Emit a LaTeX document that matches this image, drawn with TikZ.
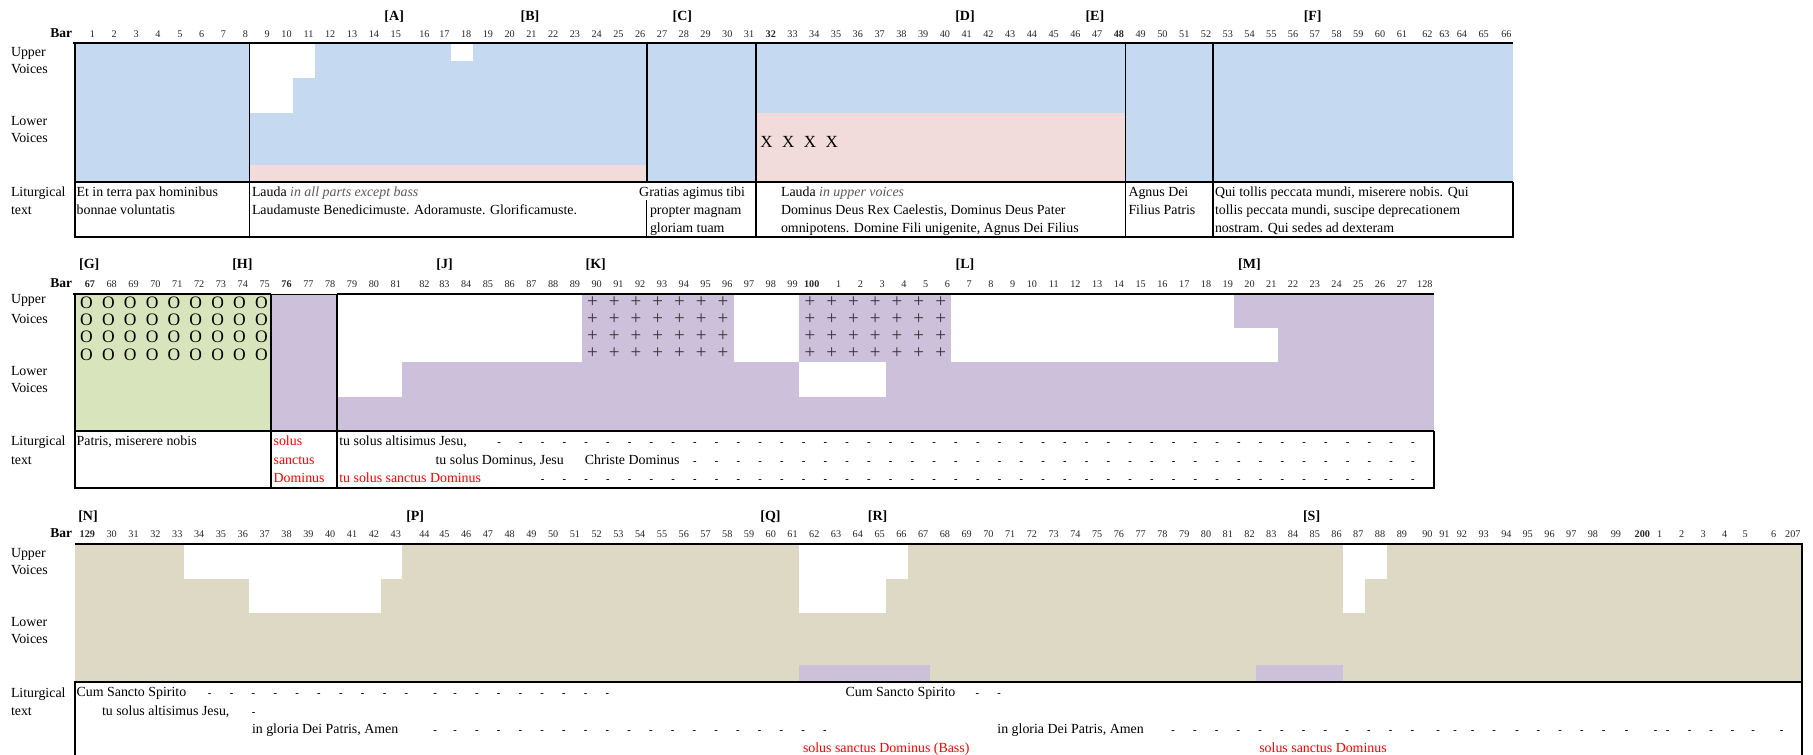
\documentclass[tikz,border=0pt]{standalone}
\usepackage{fontspec}
\setmainfont{Liberation Serif}
\definecolor{cblue}{HTML}{C5D9F1}
\definecolor{cpink}{HTML}{F2DCDB}
\definecolor{cgreen}{HTML}{D8E4BC}
\definecolor{cpurple}{HTML}{CCC0DA}
\definecolor{ctan}{HTML}{DDD9C4}
\definecolor{cgray}{HTML}{595959}
\definecolor{cred}{HTML}{FF0000}
\foreach \i/\v in {0/74.6,1/96.45,2/118.3,3/140.15,4/162.0,5/183.85,6/205.7,7/227.55,8/249.4,9/271.25,10/293.1,11/314.95,12/336.8,13/358.65,14/380.5,15/402.35,16/431.0,17/451.0,18/472.76,19/494.52,20/516.28,21/538.04,22/559.8,23/581.56,24/603.32,25/625.08,26/646.84,27/668.6,28/690.36,29/712.12,30/733.88,31/755.64,32/777.4,33/799.16,34/820.92,35/842.68,36/864.44,37/886.2,38/907.96,39/929.72,40/951.48,41/973.24,42/995.0,43/1016.76,44/1038.52,45/1060.28,46/1082.04,47/1103.8,48/1125.56,49/1147.32,50/1169.08,51/1190.84,52/1212.6,53/1234.36,54/1256.12,55/1277.88,56/1299.64,57/1321.4,58/1343.16,59/1364.92,60/1386.68,61/1408.44,62/1434,63/1451,64/1468.5,65/1490.2,66/1513,67/1534.3,68/1556.1,69/1577.9,70/1599.5,71/1622.5,72/1651.5,73/1663.7,74/1685.6,75/1707.1,76/1728.7,77/1749.2,78/1777.7,79/1802}{\expandafter\xdef\csname RRc\i\endcsname{\v}}
\newcommand\RR[1]{\csname RRc#1\endcsname}
\begin{document}
\begin{tikzpicture}[x=1pt,y=-1pt,
  every node/.style={inner sep=0pt,outer sep=0pt},
  txt/.style={font=\fontsize{13.9}{16}\selectfont, anchor=base west},
  barnum/.style={font=\fontsize{10.2}{11}\selectfont, anchor=base east, text=black!85},
  reh/.style={font=\bfseries\fontsize{14}{16}\selectfont, anchor=base},
  barlbl/.style={font=\bfseries\fontsize{13.5}{16}\selectfont, anchor=base east},
  dsh/.style={font=\bfseries\fontsize{10.5}{12}\selectfont, anchor=base},
  circ/.style={font=\fontsize{17.5}{20}\selectfont, anchor=center, text height=12pt, text depth=0pt},
  plus/.style={font=\fontsize{19}{21}\selectfont, anchor=center, text=black!80, text height=9.5pt, text depth=0pt},
  bigx/.style={font=\fontsize{17}{20}\selectfont, anchor=base},
  topline/.style={line width=2.4pt},
  bord/.style={line width=1.8pt},
  thinb/.style={line width=1pt}
]
\useasboundingbox (0,0) rectangle (1813,755);

% ================= ROW 1 =================
\fill[cblue] (74.6,43) rectangle (1513,182);
\fill[white] (249.4,43) rectangle (293.1,113);
\fill[white] (293.1,43) rectangle (314.95,78);
\fill[white] (451,43) rectangle (472.76,60.5);
\fill[cpink] (249.4,165) rectangle (646.84,182);
\fill[cpink] (755.64,113) rectangle (1125.56,182);

\foreach \k in {32,...,35}{
  \pgfmathtruncatemacro\km{\k-1}
  \pgfmathsetmacro\cc{(\RR{\km}+\RR{\k})/2}
  \node[bigx] (x-\k) at (\cc,147.6) {X};
}

\draw[topline] (73.4,43) -- (1513,43);
\draw[bord] (74.6,182) -- (1513,182);
\draw[bord] (73.7,237) -- (1513.9,237);
\foreach \xx in {74.6,249.4,755.64,1125.56,1212.6}{
  \draw[bord] (\xx,43) -- (\xx,237);
}
\draw[bord] (646.84,43) -- (646.84,182);
\draw[thinb] (646.84,200) -- (646.84,237);
\draw[bord] (1513,182) -- (1513,237);

\node[barlbl] (bar1) at (72,37.2) {Bar};
\foreach \k in {1,...,66}{
  \pgfmathsetmacro\xx{\RR{\k}-1.5}
  \node[barnum] (n1-\k) at (\xx,37.2) {\ifnum\k=32 \bfseries\fi\ifnum\k=48 \bfseries\fi\k};
}
\foreach \t/\xx in {A/394.2,B/530,C/682.4,D/965,E/1094.9,F/1312.7}{
  \node[reh] (r-\t) at (\xx,20.5) {[\t]};
}

\node[txt] (u1a) at (11,56.5) {Upper};
\node[txt] (u1b) at (11,73.5) {Voices};
\node[txt] (l1a) at (11,125.5) {Lower};
\node[txt] (l1b) at (11,142.5) {Voices};
\node[txt] (g1a) at (11,196.5) {Liturgical};
\node[txt] (g1b) at (11,214) {text};

\node[txt] (t1a) at (76.6,196.5) {Et in terra pax hominibus};
\node[txt] (t1b) at (76.6,214) {bonnae voluntatis};
\node[txt] (t2a) at (252,196.5) {Lauda {\itshape\color{cgray}in all parts except bass}};
\node[txt] (t2b) at (252,214) {Laudamuste Benedicimuste. Adoramuste. Glorificamuste.};
\node[txt, anchor=base east] (t3a) at (745,196.5) {Gratias agimus tibi};
\node[txt] (t3b) at (650,214) {propter magnam};
\node[txt] (t3c) at (650,232) {gloriam tuam};
\node[txt] (t4a) at (781,196.5) {Lauda {\itshape\color{cgray}in upper voices}};
\node[txt] (t4b) at (781,214) {Dominus Deus Rex Caelestis, Dominus Deus Pater};
\node[txt] (t4c) at (781,232) {omnipotens. Domine Fili unigenite, Agnus Dei Filius};
\node[txt] (t5a) at (1128.5,196.5) {Agnus Dei};
\node[txt] (t5b) at (1128.5,214) {Filius Patris};
\node[txt] (t6a) at (1215,196.5) {Qui tollis peccata mundi, miserere nobis. Qui};
\node[txt] (t6b) at (1215,214) {tollis peccata mundi, suscipe deprecationem};
\node[txt] (t6c) at (1215,232) {nostram. Qui sedes ad dexteram};

% ================= ROW 2 =================
\fill[cgreen] (74.6,294) rectangle (271.25,431);
\fill[cpurple] (271.25,294) rectangle (1434,431);
\fill[white] (336.8,294) rectangle (402.35,397);
\fill[white] (402.35,294) rectangle (581.56,362);
\fill[white] (733.88,294) rectangle (799.16,362);
\fill[white] (799.16,362) rectangle (886.2,397);
\fill[white] (951.48,294) rectangle (1234.36,362);
\fill[white] (1234.36,328) rectangle (1277.88,362);

\foreach \k in {1,...,9}{
  \pgfmathtruncatemacro\km{\k-1}
  \pgfmathsetmacro\cc{(\RR{\km}+\RR{\k})/2+1}
  \foreach \yy [count=\r] in {302.6,319.7,336.8,354}{
    \node[circ] (o-\r-\k) at (\cc,\yy) {O};
  }
}
\foreach \k in {24,...,30,34,35,36,37,38,39,40}{
  \pgfmathtruncatemacro\km{\k-1}
  \pgfmathsetmacro\cc{(\RR{\km}+\RR{\k})/2}
  \foreach \yy [count=\r] in {302.6,319.7,336.8,354}{
    \node[plus] (p-\r-\k) at (\cc,\yy) {+};
  }
}

\draw[topline] (73.4,294) -- (271.25,294);
\draw[thinb] (271.25,294) -- (336.8,294);
\draw[topline] (336.8,294) -- (1434,294);
\draw[bord] (74.6,431) -- (1434,431);
\draw[bord] (73.7,488) -- (1434.9,488);
\foreach \xx in {74.6,271.25,336.8}{
  \draw[bord] (\xx,294) -- (\xx,488);
}
\draw[bord] (1434,431) -- (1434,488);

\node[barlbl] (bar2) at (72,287.2) {Bar};
\foreach \k in {1,...,62}{
  \pgfmathtruncatemacro\b{66+\k}
  \pgfmathtruncatemacro\lab{ifthenelse(and(\b>100,\b<128),\b-100,\b)}
  \pgfmathsetmacro\xx{\RR{\k}-1.5}
  \node[barnum] (n2-\k) at (\xx,287.2) {\ifnum\b=67 \bfseries\fi\ifnum\b=76 \bfseries\fi\ifnum\b=100 \bfseries\fi\lab};
}
\foreach \t/\xx in {G/89.3,H/242.4,J/444.5,K/595.7,L/965,M/1249.4}{
  \node[reh] (r-\t) at (\xx,268.5) {[\t]};
}

\node[txt] (u2a) at (11,303) {Upper};
\node[txt] (u2b) at (11,323.3) {Voices};
\node[txt] (l2a) at (11,375.3) {Lower};
\node[txt] (l2b) at (11,392.5) {Voices};
\node[txt] (g2a) at (11,445.5) {Liturgical};
\node[txt] (g2b) at (11,464.5) {text};

\node[txt] (s1) at (76.6,445.5) {Patris, miserere nobis};
\node[txt, text=cred] (s2a) at (273.6,445.5) {solus};
\node[txt, text=cred] (s2b) at (273.6,464.5) {sanctus};
\node[txt, text=cred] (s2c) at (273.6,482.5) {Dominus};
\node[txt] (s3a) at (339.3,445.5) {tu solus altisimus Jesu,};
\node[txt] (s3b) at (435.6,464.5) {tu solus Dominus, Jesu};
\node[txt] (s3c) at (584.9,464.5) {Christe Dominus};
\node[txt, text=cred] (s3d) at (339.3,482.5) {tu solus sanctus Dominus};

\foreach \k in {20,...,62}{
  \pgfmathtruncatemacro\km{\k-1}
  \pgfmathsetmacro\xx{\RR{\km}+4.5}
  \node[dsh] (d2a-\k) at (\xx,445.5) {-};
}
\foreach \k in {29,...,62}{
  \pgfmathtruncatemacro\km{\k-1}
  \pgfmathsetmacro\xx{\RR{\km}+4.5}
  \node[dsh] (d2b-\k) at (\xx,464.5) {-};
}
\foreach \k in {22,...,62}{
  \pgfmathtruncatemacro\km{\k-1}
  \pgfmathsetmacro\xx{\RR{\km}+4.5}
  \node[dsh] (d2c-\k) at (\xx,482.5) {-};
}

% ================= ROW 3 =================
\fill[ctan] (74.6,544) rectangle (1802,682);
\fill[white] (183.85,544) rectangle (402.35,578.5);
\fill[white] (249.4,578.5) rectangle (380.5,613);
\fill[white] (799.16,544) rectangle (907.96,578.5);
\fill[white] (799.16,578.5) rectangle (886.2,613);
\fill[white] (1343.16,544) rectangle (1386.68,578.5);
\fill[white] (1343.16,578.5) rectangle (1364.92,613);
\fill[cpurple] (799.16,664.5) rectangle (929.72,682);
\fill[cpurple] (1256.12,664.5) rectangle (1343.16,682);

\draw[topline] (74.6,544) -- (1803,544);
\draw[bord] (74.6,682) -- (1802,682);
\draw[bord] (74.6,681.1) -- (74.6,755);
\draw[bord] (1802,542.8) -- (1802,755);

\node[barlbl] (bar3) at (72,537.2) {Bar};
\foreach \k in {1,...,79}{
  \pgfmathtruncatemacro\b{128+\k}
  \pgfmathtruncatemacro\lab{ifthenelse(and(\b>129,\b<200),\b-100,ifthenelse(and(\b>200,\b<207),\b-200,\b))}
  \pgfmathsetmacro\xx{\RR{\k}-1.5}
  \node[barnum] (n3-\k) at (\xx,537.2) {\ifnum\b=129 \bfseries\fi\ifnum\b=200 \bfseries\fi\lab};
}
\foreach \t/\xx in {N/88,P/415.2,Q/770.5,R/877.6,S/1311.6}{
  \node[reh] (r-\t) at (\xx,520.5) {[\t]};
}

\node[txt] (u3a) at (11,557.3) {Upper};
\node[txt] (u3b) at (11,574) {Voices};
\node[txt] (l3a) at (11,626.5) {Lower};
\node[txt] (l3b) at (11,643.5) {Voices};
\node[txt] (g3a) at (11,697) {Liturgical};
\node[txt] (g3b) at (11,715.2) {text};

\node[txt] (c1) at (76.6,696.5) {Cum Sancto Spirito};
\node[txt] (c2) at (845.7,696.5) {Cum Sancto Spirito};
\node[txt] (c3) at (102,715.5) {tu solus altisimus Jesu,};
\node[txt] (c4) at (252,733.5) {in gloria Dei Patris, Amen};
\node[txt] (c5) at (997.4,733.5) {in gloria Dei Patris, Amen};
\node[txt, text=cred] (c6) at (803,752.5) {solus sanctus Dominus (Bass)};
\node[txt, text=cred] (c7) at (1259.3,752.5) {solus sanctus Dominus};

\foreach \k in {7,...,25,42,43}{
  \pgfmathtruncatemacro\km{\k-1}
  \pgfmathsetmacro\xx{\RR{\km}+4}
  \node[dsh] (d3a-\k) at (\xx,696.5) {-};
}
\node[dsh] (d3b-9) at (253.6,715.5) {-};
\foreach \k in {17,...,35,51,52,...,79}{
  \pgfmathtruncatemacro\km{\k-1}
  \pgfmathsetmacro\xx{\RR{\km}+4}
  \node[dsh] (d3c-\k) at (\xx,733.5) {-};
}
\end{tikzpicture}
\end{document}
